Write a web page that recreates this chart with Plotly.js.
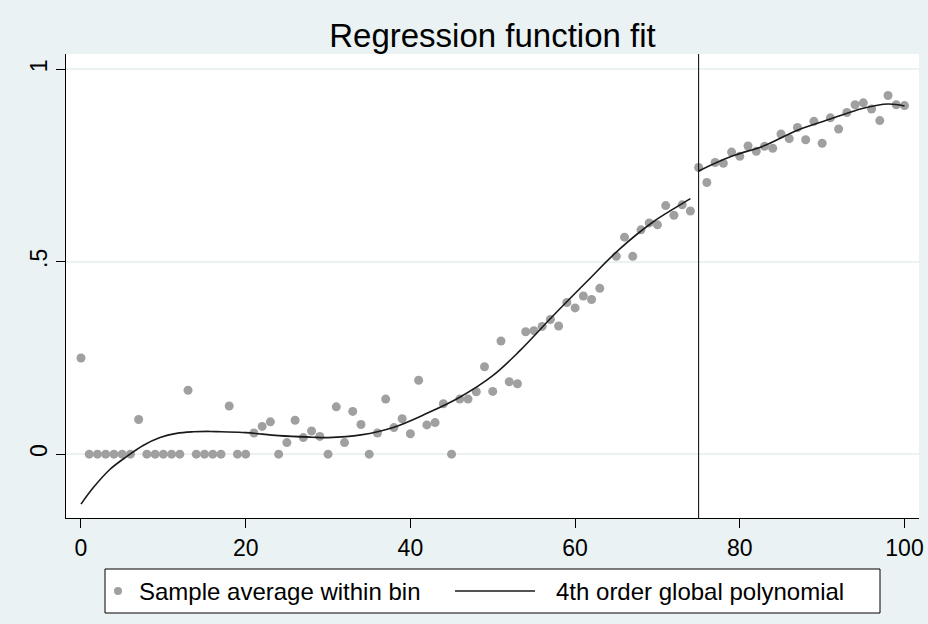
<!DOCTYPE html>
<html>
<head>
<meta charset="utf-8">
<script src="https://cdn.plot.ly/plotly-3.0.1.min.js"></script>
<style>html,body{margin:0;padding:0;background:#EAF2F3;}#chart{width:928px;height:624px;}</style>
</head>
<body>
<div id="chart"></div>
<script>
// Bin averages, left of cutoff
const binXLeft = [0,1,2,3,4,5,6,7,8,9,10,11,12,13,14,15,16,17,18,19,20,21,22,23,24,25,26,27,28,29,30,31,32,33,34,35,36,37,38,39,40,41,42,43,44,45,46,47,48,49,50,51,52,53,54,55,56,57,58,59,60,61,62,63,65,66,67,68,69,70,71,72,73,74];
const binYLeft = [0.25,0,0,0,0,0,0,0.09,0,0,0,0,0,0.166,0,0,0,0,0.125,0,0,0.055,0.072,0.084,0,0.03,0.088,0.043,0.06,0.046,0,0.123,0.03,0.111,0.077,0,0.055,0.143,0.069,0.092,0.053,0.192,0.076,0.082,0.131,0,0.143,0.143,0.162,0.227,0.163,0.294,0.188,0.183,0.318,0.321,0.332,0.35,0.333,0.394,0.38,0.411,0.402,0.431,0.514,0.564,0.514,0.583,0.601,0.596,0.646,0.621,0.648,0.632];
// Bin averages, right of cutoff
const binXRight = [75,76,77,78,79,80,81,82,83,84,85,86,87,88,89,90,91,92,93,94,95,96,97,98,99,100];
const binYRight = [0.745,0.706,0.758,0.756,0.785,0.774,0.801,0.787,0.800,0.795,0.832,0.820,0.849,0.817,0.865,0.808,0.874,0.845,0.888,0.908,0.913,0.897,0.867,0.932,0.908,0.906];
// Fitted polynomial
const fitXLeft = [0,1.5,3.5,5.5,7.6,9.6,11.6,13.6,15.7,17,20,24,28,30,34,38,42,46,50,53.3,57.3,61.4,65.4,69.5,72,74];
const fitYLeft = [-0.130,-0.087,-0.040,-0.007,0.023,0.043,0.054,0.058,0.059,0.058,0.056,0.048,0.044,0.043,0.050,0.070,0.106,0.148,0.204,0.269,0.359,0.448,0.533,0.604,0.638,0.664];
const fitXRight = [75,79,83,87,91,95,98,100];
const fitYRight = [0.736,0.774,0.802,0.842,0.871,0.899,0.910,0.905];
const cutoff = 75;
const xTicks = [0,20,40,60,80,100];
const yTicks = [0,0.5,1];
const yTickText = ['0','.5','1'];
const legendLabels = ['Sample average within bin', '4th order global polynomial'];

const markerColor = '#a0a0a0';
const lineColor = '#1a1a1a';
const lineStyle = {color:lineColor, width:1.6, shape:'spline', smoothing:1};

const traces = [
  {x: binXLeft.concat(binXRight), y: binYLeft.concat(binYRight), type:'scatter', mode:'markers',
   marker:{color:markerColor, size:9}, name:legendLabels[0]},
  {x: fitXLeft, y: fitYLeft, type:'scatter', mode:'lines', line: lineStyle, name:legendLabels[1]},
  {x: fitXRight, y: fitYRight, type:'scatter', mode:'lines', line: lineStyle, name:legendLabels[1]}
];

// pixel -> paper helpers for the legend box (plot area 66..919 x 54..518)
const M = {l:66, r:9, t:54, b:106};
const PW = 928 - M.l - M.r, PH = 624 - M.t - M.b;
const px = v => (v - M.l) / PW;
const py = v => (624 - M.b - v) / PH;
const legY = py(591);

const font = 'Liberation Sans, Arial, Helvetica, sans-serif';
const layout = {
  width:928, height:624,
  paper_bgcolor:'#EAF2F3', plot_bgcolor:'#ffffff',
  margin:M,
  showlegend:false,
  font:{family:font, color:'#000000'},
  title:{text:'Regression function fit', font:{size:33, family:font, color:'#000'},
         x:0.5, xref:'paper', xanchor:'center', y:1-35/624, yref:'container', yanchor:'middle'},
  xaxis:{range:[-1.82,101.76], tickvals:xTicks, ticks:'outside', ticklen:9, tickwidth:1, tickcolor:'#000',
         showgrid:false, zeroline:false, showline:true, linecolor:'#000', linewidth:1,
         tickfont:{size:23, family:font}},
  yaxis:{range:[-0.166,1.040], tickvals:yTicks, ticktext:yTickText, tickangle:-90, ticks:'outside', ticklen:9,
         tickwidth:1, tickcolor:'#000', showgrid:true, gridcolor:'#EAF2F3', gridwidth:2,
         zeroline:false, showline:true, linecolor:'#000', linewidth:1,
         tickfont:{size:23, family:font}},
  shapes:[
    {type:'line', xref:'x', yref:'paper', x0:cutoff, x1:cutoff, y0:0, y1:1, line:{color:'#000', width:1}},
    {type:'rect', xref:'paper', yref:'paper', x0:px(105), x1:px(880), y0:py(569), y1:py(613),
     fillcolor:'#ffffff', line:{color:'#000', width:1}},
    {type:'circle', xref:'paper', yref:'paper', xsizemode:'pixel', ysizemode:'pixel',
     xanchor:px(118), yanchor:legY, x0:-4, x1:4, y0:-4, y1:4, fillcolor:markerColor, line:{width:0}},
    {type:'line', xref:'paper', yref:'paper', x0:px(455), x1:px(535), y0:legY, y1:legY,
     line:{color:lineColor, width:1.3}}
  ],
  annotations:[
    {text:legendLabels[0], xref:'paper', yref:'paper', x:px(137), y:legY, xanchor:'left', yanchor:'middle',
     showarrow:false, font:{size:24, family:font, color:'#000'}},
    {text:legendLabels[1], xref:'paper', yref:'paper', x:px(554), y:legY, xanchor:'left', yanchor:'middle',
     showarrow:false, font:{size:24, family:font, color:'#000'}}
  ]
};

Plotly.newPlot('chart', traces, layout, {displayModeBar:false, staticPlot:true});
</script>
</body>
</html>
